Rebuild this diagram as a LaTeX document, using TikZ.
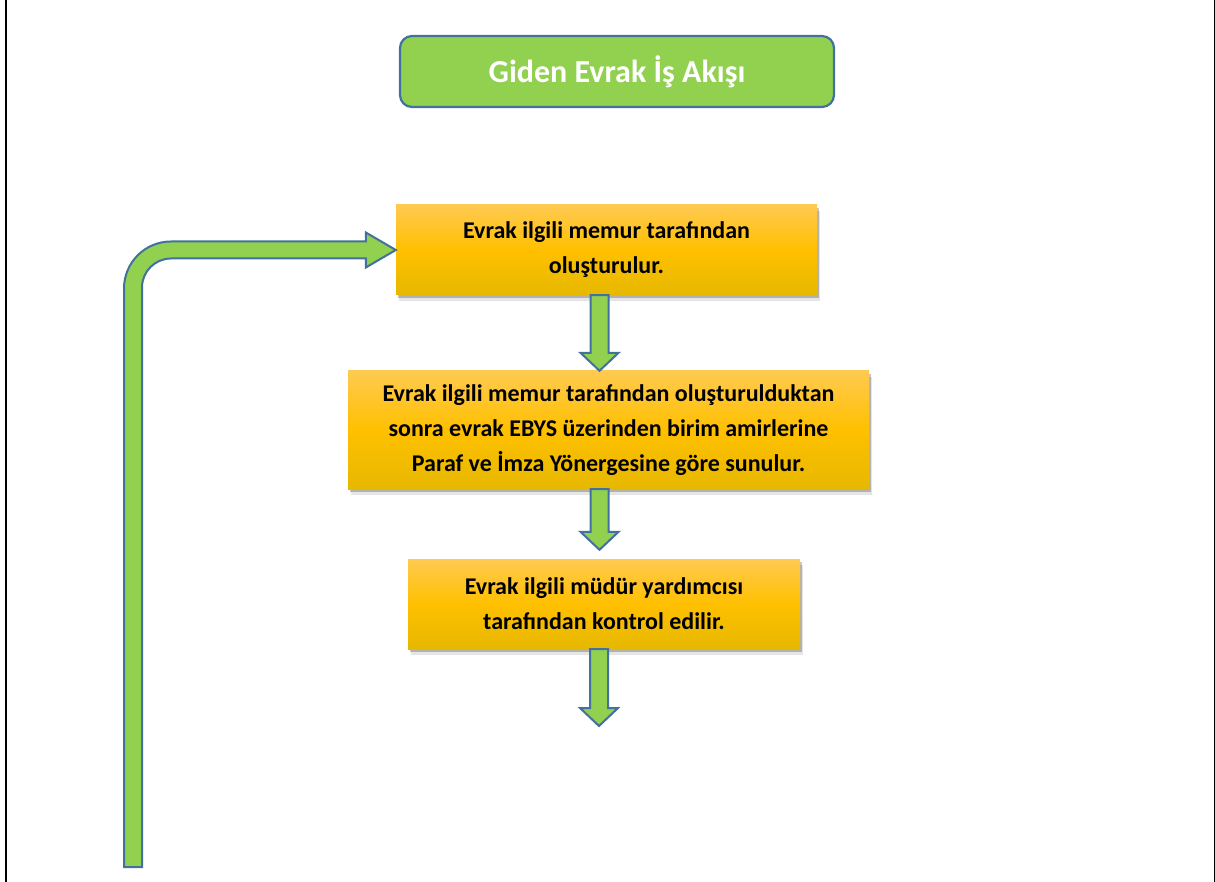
\documentclass[tikz,border=0pt]{standalone}
\usepackage{fontspec}
\setmainfont{Carlito}
\usetikzlibrary{calc,shadows}
\definecolor{grn}{HTML}{92D050}
\definecolor{bordr}{HTML}{41719C}
\definecolor{otop}{HTML}{FFCA50}
\definecolor{omid}{HTML}{FFC000}
\definecolor{obot}{HTML}{E6B800}
\newcommand{\fatdown}[2]{%
  \draw[fat] let \p1=(#1), \p2=(#2) in
    (\x1-9pt,\y1) -- (\x1-9pt,\y2+18pt) -- (\x1-19pt,\y2+18pt) -- (\x1,\y2)
    -- (\x1+19pt,\y2+18pt) -- (\x1+9pt,\y2+18pt) -- (\x1+9pt,\y1) -- cycle;}
\begin{document}
\begin{tikzpicture}[x=1pt,y=-1pt,
  titlebox/.style={draw=bordr, line width=2.2pt, fill=grn, rounded corners=12pt,
    minimum width=434pt, minimum height=71pt, inner sep=0pt, text=white,
    font=\fontsize{32}{38}\selectfont\bfseries},
  boxshadow/.style={
    general shadow={fill=black, opacity=0.10, shadow xshift=3pt, shadow yshift=-6pt},
    general shadow={fill=black, opacity=0.22, shadow xshift=2pt, shadow yshift=-3pt}},
  stepbox/.style={boxshadow, top color=otop, bottom color=obot, middle color=omid,
    inner sep=0pt, align=center, text=black,
    font=\fontsize{24}{35}\selectfont\bfseries},
  fat/.style={draw=bordr, line width=2pt, fill=grn, line join=miter},
  frame/.style={draw=black}]
\useasboundingbox (0,0) rectangle (1215,882);
\fill[white] (0,0) rectangle (1215,882);
\draw[frame, line width=2pt] (5.7,0) -- (5.7,882);
\draw[frame, line width=1.5pt] (1214.3,0) -- (1214.3,882);

\node[titlebox] (title) at (617,71.5) {Giden Evrak İş Akışı};

\node[stepbox, minimum width=421pt, minimum height=90pt] (b1) at (606.5,250)
  {Evrak ilgili memur tarafından\\oluşturulur.};
\node[stepbox, minimum width=521pt, minimum height=118pt] (b2) at (608.5,430)
  {Evrak ilgili memur tarafından oluşturulduktan\\sonra evrak EBYS üzerinden birim amirlerine\\Paraf ve İmza Yönergesine göre sunulur.};
\node[stepbox, minimum width=392pt, minimum height=90pt] (b3) at (604,604)
  {Evrak ilgili müdür yardımcısı\\tarafından kontrol edilir.};

\coordinate (ax) at (599.5,0);
\coordinate (end3) at (599,726);
\coordinate (loop) at (133,867);

\fatdown{b1.south -| ax}{b2.north -| ax}
\fatdown{b2.south -| ax}{[yshift=9pt]b3.north -| ax}
\fatdown{b3.south -| end3}{end3}

\draw[fat] let \p1=(b1.west), \p2=(loop) in
  (\x2-9pt,\y2) -- (\x2-9pt,\y1+8.5pt-47pt)
  .. controls (\x2-9pt,\y1+8.5pt-21pt) and (\x2+12pt,\y1+8.5pt) .. (\x2+38pt,\y1+8.5pt)
  -- (\x1-30pt,\y1+8.5pt) -- (\x1-30pt,\y1+17.5pt) -- (\x1,\y1)
  -- (\x1-30pt,\y1-17.5pt) -- (\x1-30pt,\y1-8.5pt)
  -- (\x2+38pt,\y1-8.5pt)
  .. controls (\x2+22pt,\y1-8.5pt) and (\x2+9pt,\y1-8.5pt-13pt) .. (\x2+9pt,\y1-8.5pt-29pt)
  -- (\x2+9pt,\y2) -- cycle;
\end{tikzpicture}
\end{document}
